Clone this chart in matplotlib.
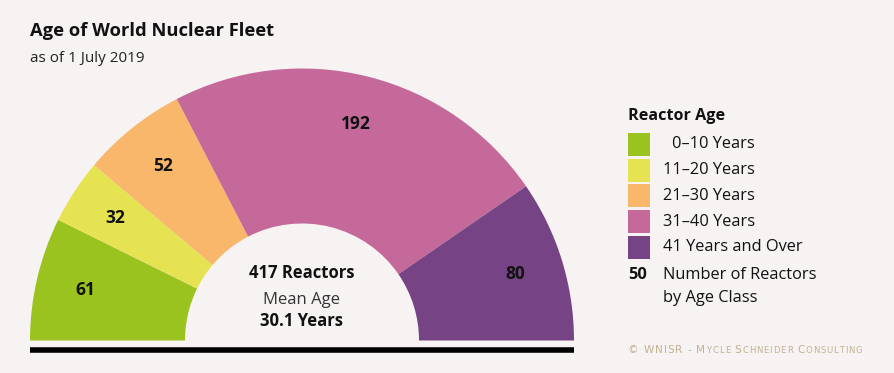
import matplotlib
matplotlib.use("Agg")
import matplotlib.pyplot as plt

# ---- data ----
categories = ["0\u201310 Years", "11\u201320 Years", "21\u201330 Years", "31\u201340 Years", "41 Years and Over"]
counts = [61, 32, 52, 192, 80]
colors = ["#9BC31F", "#E5E352", "#F9B76B", "#C4699A", "#764485"]
total_reactors = 417
mean_age = 30.1

BG = "#F7F3F3"
FONT = ["Open Sans", "DejaVu Sans"]
plt.rcParams["font.family"] = FONT

W, H = 895, 373
fig = plt.figure(figsize=(W / 100, H / 100), dpi=100, facecolor=BG)
ax = fig.add_axes([0, 0, 1, 1], facecolor=BG)

# pixel-like coordinates (y up)
cx, cy = 302, H - 340.5
R, r_in = 272, 117

fracs = [c / (2 * sum(counts)) for c in counts]
wedges, _, autotexts = ax.pie(
    fracs, normalize=False, colors=colors, startangle=180, counterclock=False,
    radius=R, center=(cx, cy), wedgeprops=dict(width=R - r_in, linewidth=0),
    autopct=lambda p: f"{round(p * 2 * sum(counts) / 100)}",
    pctdistance=223 / R,
    textprops=dict(fontsize=12.5, fontweight="bold", color="#111111"),
)
ax.set_xlim(0, W)
ax.set_ylim(0, H)
ax.set_aspect("equal")
ax.axis("off")

# baseline
ax.plot([30, 574], [H - 349.5, H - 349.5], color="black", lw=4, solid_capstyle="butt")

# center text
ax.text(cx, H - 273, f"{total_reactors} Reactors", ha="center", va="center",
        fontsize=12, fontweight="bold", color="#111111")
ax.text(cx, H - 300, "Mean Age", ha="center", va="center", fontsize=12, color="#333333")
ax.text(cx, H - 321, f"{mean_age} Years", ha="center", va="center",
        fontsize=12, fontweight="bold", color="#111111")

# title
ax.text(30, H - 31, "Age of World Nuclear Fleet", ha="left", va="center",
        fontsize=13.2, fontweight="bold", color="#111111")
ax.text(30, H - 59, "as of 1 July 2019", ha="left", va="center", fontsize=11, color="#222222")

# legend
ax.text(628, H - 116, "Reactor Age", ha="left", va="center", fontsize=11.6, fontweight="bold", color="#111111")
y0, pitch = 144.5, 25.7
for i, (lab, col) in enumerate(zip(categories, colors)):
    yc = y0 + i * pitch
    ax.add_patch(plt.Rectangle((628, H - yc - 11.5), 22, 23, facecolor=col, edgecolor="none"))
    lx = 672 if i == 0 else 663
    ax.text(lx, H - yc, lab, ha="left", va="center", fontsize=11.8, color="#111111")
ax.text(628, H - 275, "50", ha="left", va="center", fontsize=11.8, fontweight="bold", color="#111111")
ax.text(663, H - 275, "Number of Reactors", ha="left", va="center", fontsize=11.8, color="#111111")
ax.text(663, H - 298, "by Age Class", ha="left", va="center", fontsize=11.8, color="#111111")

# copyright in small caps with letter spacing
fig.canvas.draw()
renderer = fig.canvas.get_renderer()
inv = ax.transData.inverted()
runs = [("\u00a9 WNISR - M", 7.6), ("YCLE ", 6.1), ("S", 7.6), ("CHNEIDER ", 6.1), ("C", 7.6), ("ONSULTING", 6.1)]
x = 628
tcol = "#C2B193"
track = 0.85
for s, fs in runs:
    for ch in s:
        t = ax.text(x, H - 353, ch, ha="left", va="baseline", fontsize=fs, color=tcol,
                    family=["DejaVu Sans"], fontweight="bold" if False else "normal")
        bb = t.get_window_extent(renderer)
        x = inv.transform((bb.x1, 0))[0] + track if ch != " " else x + fs * 0.45 + track

fig.savefig("out.png", dpi=100, facecolor=BG)
